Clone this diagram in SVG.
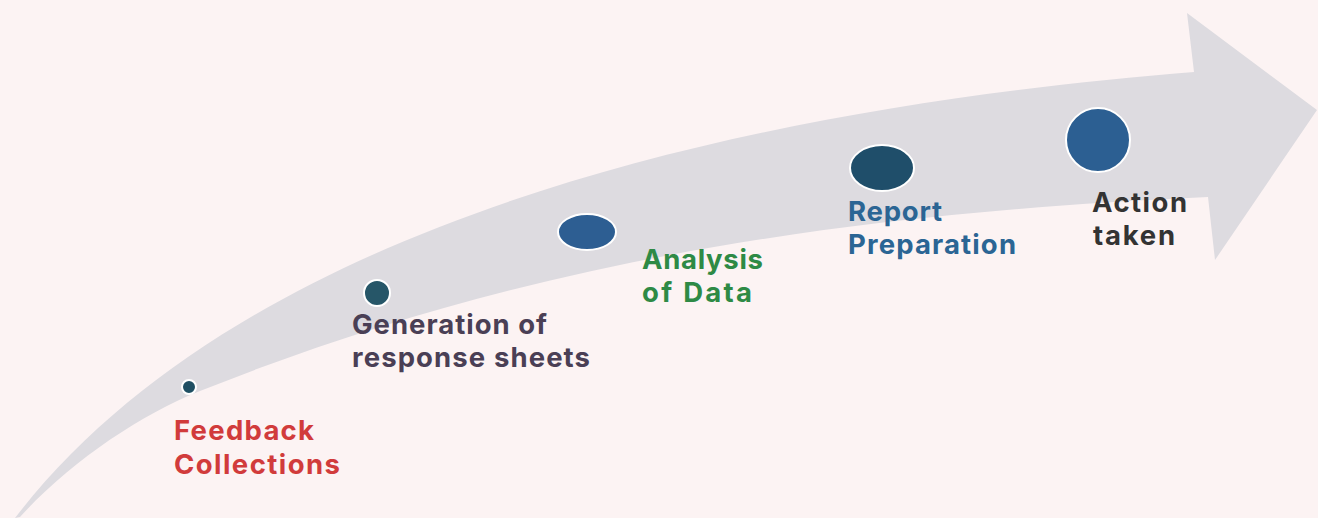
<svg xmlns="http://www.w3.org/2000/svg" width="1318" height="518" viewBox="0 0 1318 518">
  <style>
    .lbl { font-family: Inter, "Liberation Sans", Arial, sans-serif; font-weight: bold; font-size: 27.5px; }
    .dot { stroke: #ffffff; stroke-width: 2; }
    .red { fill: #d13b3b; }
    .purple { fill: #4a3f55; }
    .green { fill: #2e8a45; }
    .blue { fill: #2b6594; }
    .dark { fill: #333333; }
  </style>
  <rect x="0" y="0" width="1318" height="518" fill="#fcf3f3"/>
  <g id="connectors">
    <path d="M15,518 C255,206 792,104 1194,72 L1187,13 L1317,110 L1215,260 L1208,197 C807,215 500,271 200,391 C140,415 70,462 20,517 Z" fill="#dddbe0"/>
  </g>
  <g id="node-feedback">
    <circle class="dot" cx="189" cy="387" r="7" fill="#1f4f63"/>
    <text class="lbl red" x="174" y="439.5" textLength="140" lengthAdjust="spacing">Feedback</text>
    <text class="lbl red" x="174" y="473.5" textLength="166" lengthAdjust="spacing">Collections</text>
  </g>
  <g id="node-generation">
    <circle class="dot" cx="377" cy="293" r="13" fill="#265668"/>
    <text class="lbl purple" x="352" y="333.5" textLength="195" lengthAdjust="spacing">Generation of</text>
    <text class="lbl purple" x="352" y="367" textLength="238" lengthAdjust="spacing">response sheets</text>
  </g>
  <g id="node-analysis">
    <ellipse class="dot" cx="587" cy="232" rx="29" ry="18" fill="#2d5e92"/>
    <text class="lbl green" x="642" y="269" textLength="121" lengthAdjust="spacing">Analysis</text>
    <text class="lbl green" x="642" y="302" textLength="110" lengthAdjust="spacing">of Data</text>
  </g>
  <g id="node-report">
    <ellipse class="dot" cx="882" cy="168" rx="32" ry="23" fill="#1f4e6a"/>
    <text class="lbl blue" x="848" y="220.5" textLength="94" lengthAdjust="spacing">Report</text>
    <text class="lbl blue" x="848" y="253.5" textLength="168" lengthAdjust="spacing">Preparation</text>
  </g>
  <g id="node-action">
    <circle class="dot" cx="1098" cy="140" r="32" fill="#2c5f92"/>
    <text class="lbl dark" x="1092" y="212" textLength="95" lengthAdjust="spacing">Action</text>
    <text class="lbl dark" x="1093" y="245" textLength="82" lengthAdjust="spacing">taken</text>
  </g>
</svg>
